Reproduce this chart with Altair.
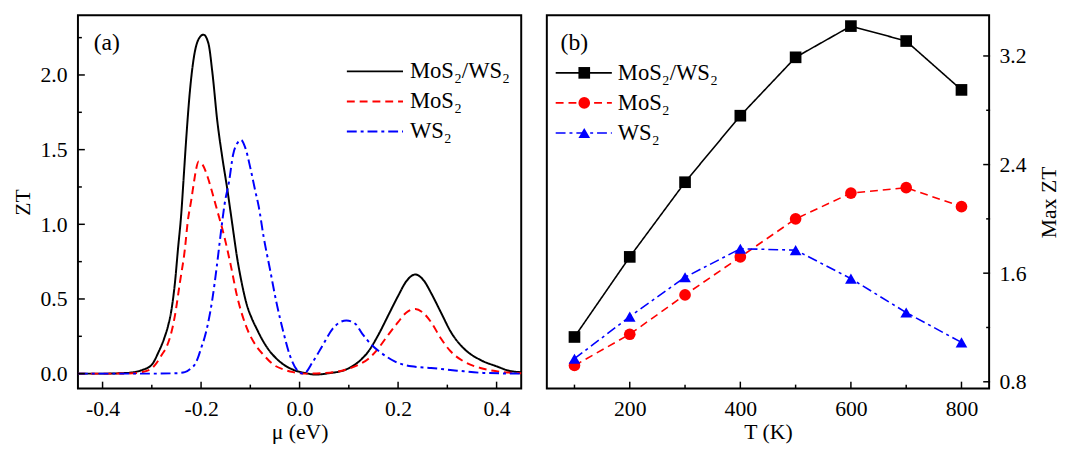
import altair as alt
import pandas as pd

FONT = "Liberation Serif"
names = ["MoS₂/WS₂", "MoS₂", "WS₂"]
colors = ["#000000", "#ff0000", "#0000ff"]

# ---------------- Panel (a): ZT vs chemical potential ----------------
mu_het = [-0.45, -0.40, -0.36, -0.34, -0.32, -0.30, -0.287, -0.275, -0.267, -0.26, -0.253, -0.247,
          -0.24, -0.235, -0.23, -0.223, -0.215, -0.205, -0.195, -0.185, -0.177, -0.167, -0.157,
          -0.147, -0.137, -0.127, -0.117, -0.107, -0.097, -0.087, -0.077, -0.067, -0.04, -0.013,
          0.01, 0.033, 0.06, 0.093, 0.12, 0.14, 0.16, 0.18, 0.20, 0.217, 0.235, 0.253, 0.267,
          0.287, 0.307, 0.333, 0.367, 0.40, 0.427, 0.45]
zt_het = [0.0, 0.0, 0.003, 0.008, 0.024, 0.06, 0.14, 0.235, 0.32, 0.43, 0.61, 0.83,
          1.08, 1.33, 1.58, 1.88, 2.11, 2.24, 2.27, 2.21, 2.015, 1.69, 1.45,
          1.24, 1.01, 0.78, 0.60, 0.46, 0.37, 0.30, 0.235, 0.18, 0.08, 0.026,
          0.005, -0.006, 0.003, 0.026, 0.08, 0.15, 0.26, 0.39, 0.52, 0.62, 0.664, 0.62, 0.54,
          0.41, 0.28, 0.17, 0.092, 0.049, 0.018, 0.01]

mu_mos = [-0.45, -0.40, -0.34, -0.32, -0.30, -0.293, -0.28, -0.27, -0.26, -0.253, -0.243, -0.233,
          -0.227, -0.22, -0.215, -0.21, -0.205, -0.197, -0.187, -0.177, -0.167, -0.153, -0.14,
          -0.127, -0.11, -0.087, -0.073, -0.053, -0.03, -0.013, 0.01, 0.053, 0.093, 0.12, 0.14,
          0.16, 0.18, 0.20, 0.217, 0.235, 0.25, 0.267, 0.287, 0.307, 0.333, 0.367, 0.40, 0.45]
zt_mos = [0.0, 0.0, 0.002, 0.01, 0.035, 0.06, 0.125, 0.18, 0.28, 0.39, 0.61, 0.83,
          1.02, 1.16, 1.27, 1.37, 1.42, 1.40, 1.32, 1.21, 1.09, 0.92, 0.73,
          0.52, 0.33, 0.18, 0.125, 0.06, 0.025, 0.01, 0.0, 0.005, 0.026, 0.06, 0.10,
          0.17, 0.26, 0.345, 0.41, 0.433, 0.41, 0.345, 0.235, 0.148, 0.082, 0.038, 0.016, 0.003]

mu_ws = [-0.45, -0.30, -0.25, -0.233, -0.22, -0.213, -0.207, -0.20, -0.193, -0.187, -0.177, -0.168,
         -0.16, -0.152, -0.143, -0.135, -0.127, -0.119, -0.11, -0.10, -0.09, -0.083, -0.073, -0.06,
         -0.047, -0.033, -0.02, -0.003, 0.008, 0.027, 0.047, 0.067, 0.08, 0.095, 0.113, 0.127,
         0.147, 0.167, 0.193, 0.227, 0.267, 0.32, 0.373, 0.45]
zt_ws = [0.0, 0.0, 0.003, 0.01, 0.037, 0.06, 0.10, 0.17, 0.24, 0.32, 0.50, 0.72,
         0.94, 1.14, 1.29, 1.466, 1.54, 1.565, 1.51, 1.378, 1.224, 1.12, 0.916, 0.697,
         0.477, 0.28, 0.125, 0.016, 0.0, 0.08, 0.19, 0.30, 0.34, 0.356, 0.334, 0.268,
         0.19, 0.136, 0.082, 0.049, 0.038, 0.02, 0.005, 0.0]

xa_major = [-0.4, -0.2, 0.0, 0.2, 0.4]
xa_minor = [-0.3, -0.1, 0.1, 0.3]
ya_major = [0.0, 0.5, 1.0, 1.5, 2.0]
ya_minor = [0.25, 0.75, 1.25, 1.75, 2.25]

# ---------------- Panel (b): Max ZT vs temperature ----------------
T = [100, 200, 300, 400, 500, 600, 700, 800]
max_het = [1.13, 1.72, 2.27, 2.76, 3.19, 3.42, 3.31, 2.95]
max_mos = [0.92, 1.15, 1.44, 1.72, 2.00, 2.19, 2.23, 2.09]
max_ws = [0.97, 1.28, 1.57, 1.78, 1.77, 1.56, 1.31, 1.09]

xb_major = [200, 400, 600, 800]
xb_minor = [100, 300, 500, 700]
yb_major = [0.8, 1.6, 2.4, 3.2]
yb_minor = [1.2, 2.0, 2.8]

# ---------------- tables ----------------
df_a = pd.concat([
    pd.DataFrame({"mu": mu_het, "zt": zt_het, "series": names[0]}),
    pd.DataFrame({"mu": mu_mos, "zt": zt_mos, "series": names[1]}),
    pd.DataFrame({"mu": mu_ws, "zt": zt_ws, "series": names[2]}),
])
df_b = pd.concat([
    pd.DataFrame({"T": T, "v": max_het, "series": names[0]}),
    pd.DataFrame({"T": T, "v": max_mos, "series": names[1]}),
    pd.DataFrame({"T": T, "v": max_ws, "series": names[2]}),
])
leg_df = pd.DataFrame({"series": names})

W, H = 450, 379
FS = 22

col = alt.Scale(domain=names, range=colors)
dash_a = alt.Scale(domain=names, range=[[1, 0], [8, 5], [10, 4, 3, 4]])
dash_b = alt.Scale(domain=names, range=[[1, 0], [7, 4], [9, 4, 2, 4]])
shape_b = alt.Scale(domain=names, range=["square", "circle", "triangle-up"])

minus_fix = "replace(format(datum.value, '.1f'), '\u2212', '-')"

xa = alt.Scale(domain=[-0.45, 0.45], nice=False, zero=False)
ya = alt.Scale(domain=[-0.1, 2.4], nice=False, zero=False)
xb = alt.Scale(domain=[50, 850], nice=False, zero=False)
yb = alt.Scale(domain=[0.75, 3.5], nice=False, zero=False)

ax_xa = alt.Axis(values=xa_major, labelExpr=minus_fix, title="μ (eV)", labelPadding=10, titlePadding=3)
ax_ya = alt.Axis(values=ya_major, format=".1f", title="ZT", labelPadding=11, titlePadding=6)
ax_xb = alt.Axis(values=xb_major, format="d", title="T (K)", labelPadding=10, titlePadding=3)
ax_yb = alt.Axis(values=yb_major, format=".1f", title="Max ZT", orient="right", labelPadding=10,
                 titlePadding=13, titleAngle=270, titleBaseline="top")


def xticks(vals, scale, axis, length):
    return alt.Chart(pd.DataFrame({"v": vals})).mark_rule(color="black", strokeWidth=1.5).encode(
        x=alt.X("v:Q", scale=scale, axis=axis), y=alt.value(H), y2=alt.value(H - length))


def yticks(vals, scale, length, right=False):
    x0 = W if right else 0
    x1 = W - length if right else length
    return alt.Chart(pd.DataFrame({"v": vals})).mark_rule(color="black", strokeWidth=1.5).encode(
        y=alt.Y("v:Q", scale=scale, axis=None), x=alt.value(x0), x2=alt.value(x1))


# ---------------- panel (a) ----------------
lines_a = alt.Chart(df_a).mark_line(strokeWidth=2, interpolate="monotone").encode(
    x=alt.X("mu:Q", scale=xa, axis=ax_xa),
    y=alt.Y("zt:Q", scale=ya, axis=ax_ya),
    color=alt.Color("series:N", scale=col, legend=None),
    strokeDash=alt.StrokeDash("series:N", scale=dash_a, legend=None),
)

leg_ya = alt.Scale(type="point", domain=names, range=[57, 118], padding=0)
leg_rule_a = alt.Chart(leg_df).mark_rule(strokeWidth=2).encode(
    x=alt.value(273), x2=alt.value(330),
    y=alt.Y("series:N", scale=leg_ya, axis=None),
    color=alt.Color("series:N", scale=col, legend=None),
    strokeDash=alt.StrokeDash("series:N", scale=dash_a, legend=None),
)
leg_text_a = alt.Chart(leg_df).mark_text(align="left", baseline="middle", font=FONT, fontSize=23,
                                         color="black").encode(
    x=alt.value(337), y=alt.Y("series:N", scale=leg_ya, axis=None), text="series:N")
label_a = alt.Chart(pd.DataFrame({"t": ["(a)"]})).mark_text(
    align="left", baseline="middle", font=FONT, fontSize=24, color="black").encode(
    x=alt.value(16), y=alt.value(28), text="t:N")

panel_a = alt.layer(
    lines_a,
    xticks(xa_major, xa, ax_xa, 7), xticks(xa_minor, xa, ax_xa, 4),
    yticks(ya_major, ya, 7), yticks(ya_minor, ya, 4),
    leg_rule_a, leg_text_a, label_a,
).resolve_scale(y="independent").properties(width=W, height=H)

# ---------------- panel (b) ----------------
base_b = alt.Chart(df_b).encode(
    x=alt.X("T:Q", scale=xb, axis=ax_xb),
    y=alt.Y("v:Q", scale=yb, axis=ax_yb),
    color=alt.Color("series:N", scale=col, legend=None),
)
lines_b = base_b.mark_line(strokeWidth=1.6).encode(
    strokeDash=alt.StrokeDash("series:N", scale=dash_b, legend=None))
points_b = base_b.mark_point(filled=True, size=140, opacity=1).encode(
    y=alt.Y("v:Q", scale=yb, axis=None),
    shape=alt.Shape("series:N", scale=shape_b, legend=None))

leg_yb = alt.Scale(type="point", domain=names, range=[58.5, 119.5], padding=0)
leg_rule_b = alt.Chart(leg_df).mark_rule(strokeWidth=1.6).encode(
    x=alt.value(9), x2=alt.value(66),
    y=alt.Y("series:N", scale=leg_yb, axis=None),
    color=alt.Color("series:N", scale=col, legend=None),
    strokeDash=alt.StrokeDash("series:N", scale=dash_b, legend=None),
)
leg_pt_b = alt.Chart(leg_df).mark_point(filled=True, size=140, opacity=1).encode(
    x=alt.value(38), y=alt.Y("series:N", scale=leg_yb, axis=None),
    color=alt.Color("series:N", scale=col, legend=None),
    shape=alt.Shape("series:N", scale=shape_b, legend=None),
)
leg_text_b = alt.Chart(leg_df).mark_text(align="left", baseline="middle", font=FONT, fontSize=23,
                                         color="black").encode(
    x=alt.value(72), y=alt.Y("series:N", scale=leg_yb, axis=None), text="series:N")
label_b = alt.Chart(pd.DataFrame({"t": ["(b)"]})).mark_text(
    align="left", baseline="middle", font=FONT, fontSize=24, color="black").encode(
    x=alt.value(14), y=alt.value(28), text="t:N")

panel_b = alt.layer(
    lines_b, points_b,
    xticks(xb_major, xb, ax_xb, 7), xticks(xb_minor, xb, ax_xb, 4),
    yticks(yb_major, yb, 7, right=True), yticks(yb_minor, yb, 4, right=True),
    leg_rule_b, leg_pt_b, leg_text_b, label_b,
).resolve_scale(y="independent").properties(width=W - 1, height=H)

chart = alt.hconcat(panel_a, panel_b, spacing=20).properties(
    padding={"left": 2, "top": 3, "right": 2, "bottom": 2}
).configure_axis(
    labelFont=FONT, titleFont=FONT, labelFontSize=FS, titleFontSize=FS, titleFontWeight="normal",
    labelColor="black", titleColor="black", grid=False, ticks=False, domain=False,
).configure_view(stroke="black", strokeWidth=2)

chart.save("out.html", embed_options={"renderer": "svg", "actions": False})
